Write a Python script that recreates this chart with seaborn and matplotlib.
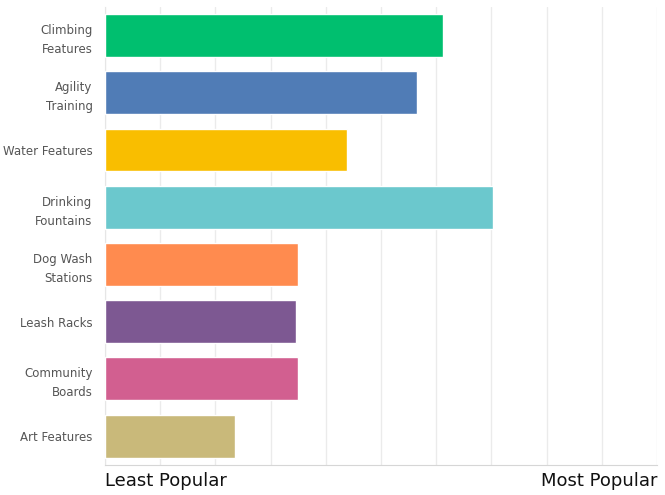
import matplotlib
matplotlib.use("Agg")
import matplotlib.pyplot as plt
import seaborn as sns
import pandas as pd

# data
features = ["Climbing\nFeatures", "Agility\nTraining", "Water Features", "Drinking\nFountains",
            "Dog Wash\nStations", "Leash Racks", "Community\nBoards", "Art Features"]
scores = [6.12, 5.65, 4.38, 7.03, 3.50, 3.46, 3.50, 2.36]
colors = ["#00BF6F", "#507CB6", "#F9BE00", "#6BC8CD", "#FF8B4F", "#7D5892", "#D25F90", "#C9B97A"]
scale_labels = ["Least Popular", "Most Popular"]

df = pd.DataFrame({"feature": features, "score": scores})

sns.set_style("white")
plt.rcParams["font.family"] = ["DejaVu Sans"]

fig = plt.figure(figsize=(6.65, 4.95), dpi=100)
ax = fig.add_axes([0.158, 0.061, 0.83, 0.925])

sns.barplot(data=df, x="score", y="feature", hue="feature", palette=colors,
            saturation=1, legend=False, width=0.75, ax=ax, zorder=3)

ax.set_xlim(0, 10)
ax.set_ylim(7.5, -0.5)
ax.set_xticks(range(11))
ax.set_xticklabels([scale_labels[0]] + [""] * 9 + [scale_labels[1]], fontsize=13, color="#111111")
tl = ax.get_xticklabels()
tl[0].set_ha("left")
tl[-1].set_ha("right")
ax.tick_params(axis="x", length=0, pad=5)
ax.tick_params(axis="y", length=0, pad=9, labelsize=8.5, labelcolor="#555555")
ax.grid(axis="x", color="#ebebeb", linewidth=1, zorder=0)

for s in ["top", "right"]:
    ax.spines[s].set_visible(False)
ax.spines["left"].set_color("#e6e6e6")
ax.spines["bottom"].set_color("#d6d6d6")
ax.set_xlabel("")
ax.set_ylabel("")

for lbl in ax.get_yticklabels():
    lbl.set_multialignment("right")
    lbl.set_linespacing(1.6)

fig.savefig("out.png", dpi=100)
